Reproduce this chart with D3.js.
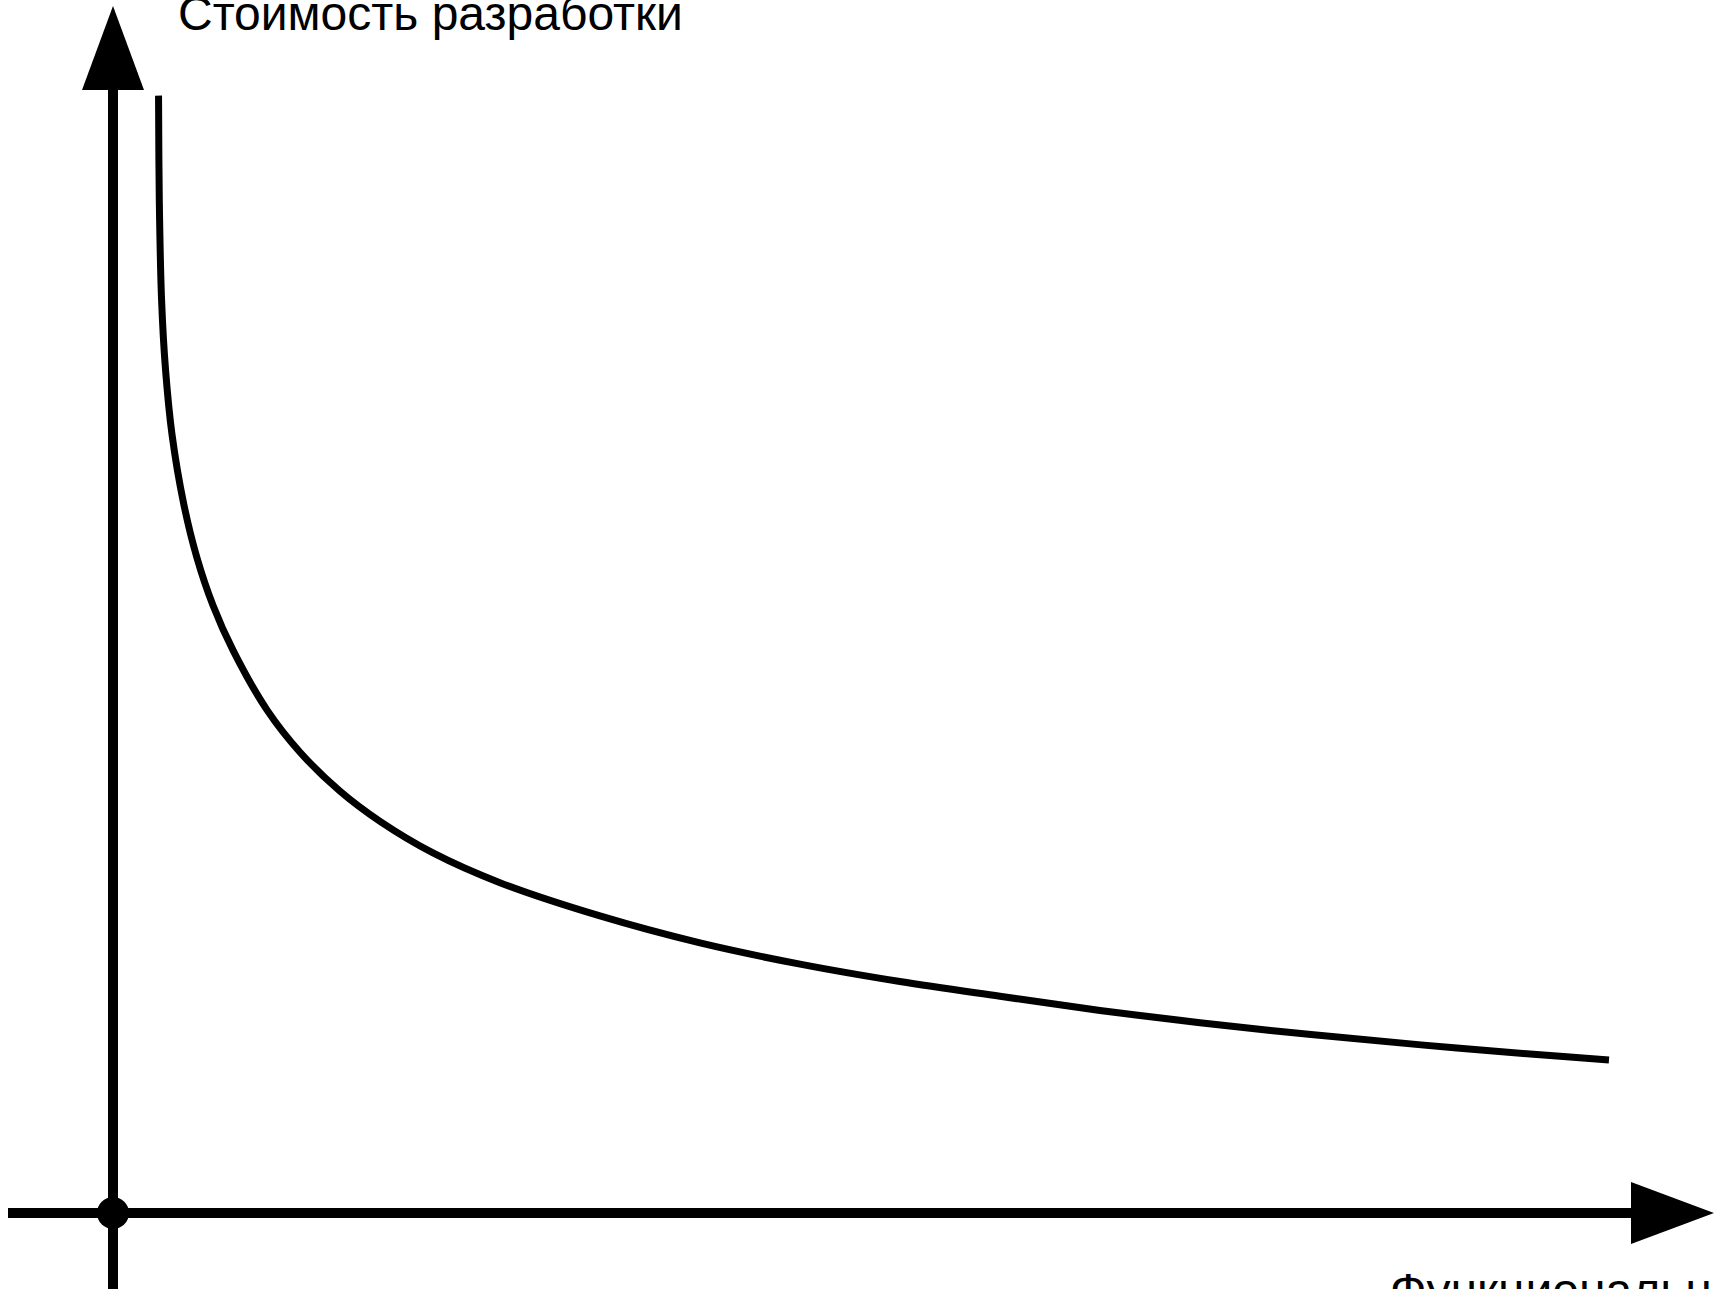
<!DOCTYPE html>
<html>
<head>
<meta charset="utf-8">
<script src="https://cdn.jsdelivr.net/npm/d3@7"></script>
<style>
  body { margin: 0; background: white; }
  svg { display: block; }
</style>
</head>
<body>
<div id="plot"></div>
<script>
// Parameters
const svg_w = 1714;
const svg_h = 1289;

// Axis labels
const yLabel = "Стоимость разработки";
const xLabel = "Функциональность";

// Curve values (functionality vs development cost, in relative units 0..100)
const functionality = [3.0, 3.05, 3.2, 3.46, 3.89, 4.65, 5.52, 6.59, 7.91, 10.14, 12.32, 14.95, 17.59,
  21.08, 25.49, 32.08, 38.67, 45.26, 51.84, 58.43, 65.02, 71.61, 78.92, 86.17, 93.35, 98.55];
const cost = [99.5, 90.2, 81.3, 75.1, 69.3, 63.2, 58.4, 54.1, 50.1, 44.8, 41.03, 37.56, 34.87,
  32.06, 29.41, 26.45, 24.05, 22.16, 20.61, 19.3, 18.04, 16.95, 15.89, 14.97, 14.16, 13.62];

// Origin of the axes and ends of the arrows
const origin = {x: 113, y: 1213};
const xEnd = 1631;   // base of x arrow
const yEnd = 90;     // base of y arrow
const arrowLen = 84;
const arrowHalf = 31;

const xScale = d3.scaleLinear().domain([0, 100]).range([origin.x, xEnd]);
const yScale = d3.scaleLinear().domain([0, 100]).range([origin.y, yEnd]);

const svg = d3.select("div#plot")
  .append("svg")
    .attr("width", svg_w)
    .attr("height", svg_h);

svg.append("rect")
    .attr("width", svg_w)
    .attr("height", svg_h)
    .attr("fill", "white");

// x axis line + arrow
svg.append("line")
    .attr("x1", 8)
    .attr("x2", xScale(100))
    .attr("y1", yScale(0))
    .attr("y2", yScale(0))
    .attr("stroke", "black")
    .attr("stroke-width", 10);

svg.append("path")
    .attr("d", `M${xScale(100)},${yScale(0) - arrowHalf} L${xScale(100) + arrowLen - 1},${yScale(0)} L${xScale(100)},${yScale(0) + arrowHalf} Z`)
    .attr("fill", "black");

// y axis line + arrow
svg.append("line")
    .attr("x1", xScale(0))
    .attr("x2", xScale(0))
    .attr("y1", svg_h)
    .attr("y2", yScale(100))
    .attr("stroke", "black")
    .attr("stroke-width", 10);

svg.append("path")
    .attr("d", `M${xScale(0) - arrowHalf},${yScale(100)} L${xScale(0)},${yScale(100) - arrowLen} L${xScale(0) + arrowHalf},${yScale(100)} Z`)
    .attr("fill", "black");

// dot at origin
svg.append("circle")
    .attr("cx", xScale(0))
    .attr("cy", yScale(0))
    .attr("r", 16)
    .attr("fill", "black");

// the curve
const points = functionality.map((f, i) => [f, cost[i]]);
const line = d3.line()
    .x(d => xScale(d[0]))
    .y(d => yScale(d[1]))
    .curve(d3.curveCatmullRom.alpha(0.5));

svg.append("path")
    .datum(points)
    .attr("d", line)
    .attr("fill", "none")
    .attr("stroke", "black")
    .attr("stroke-width", 7);

// labels
svg.append("text")
    .attr("x", 178)
    .attr("y", 30)
    .style("font-family", "'Liberation Sans', Arial, sans-serif")
    .style("font-size", "48px")
    .attr("fill", "black")
    .text(yLabel);

svg.append("text")
    .attr("x", 1390)
    .attr("y", 1307)
    .style("font-family", "'Liberation Sans', Arial, sans-serif")
    .style("font-size", "48px")
    .attr("fill", "black")
    .text(xLabel);
</script>
</body>
</html>
